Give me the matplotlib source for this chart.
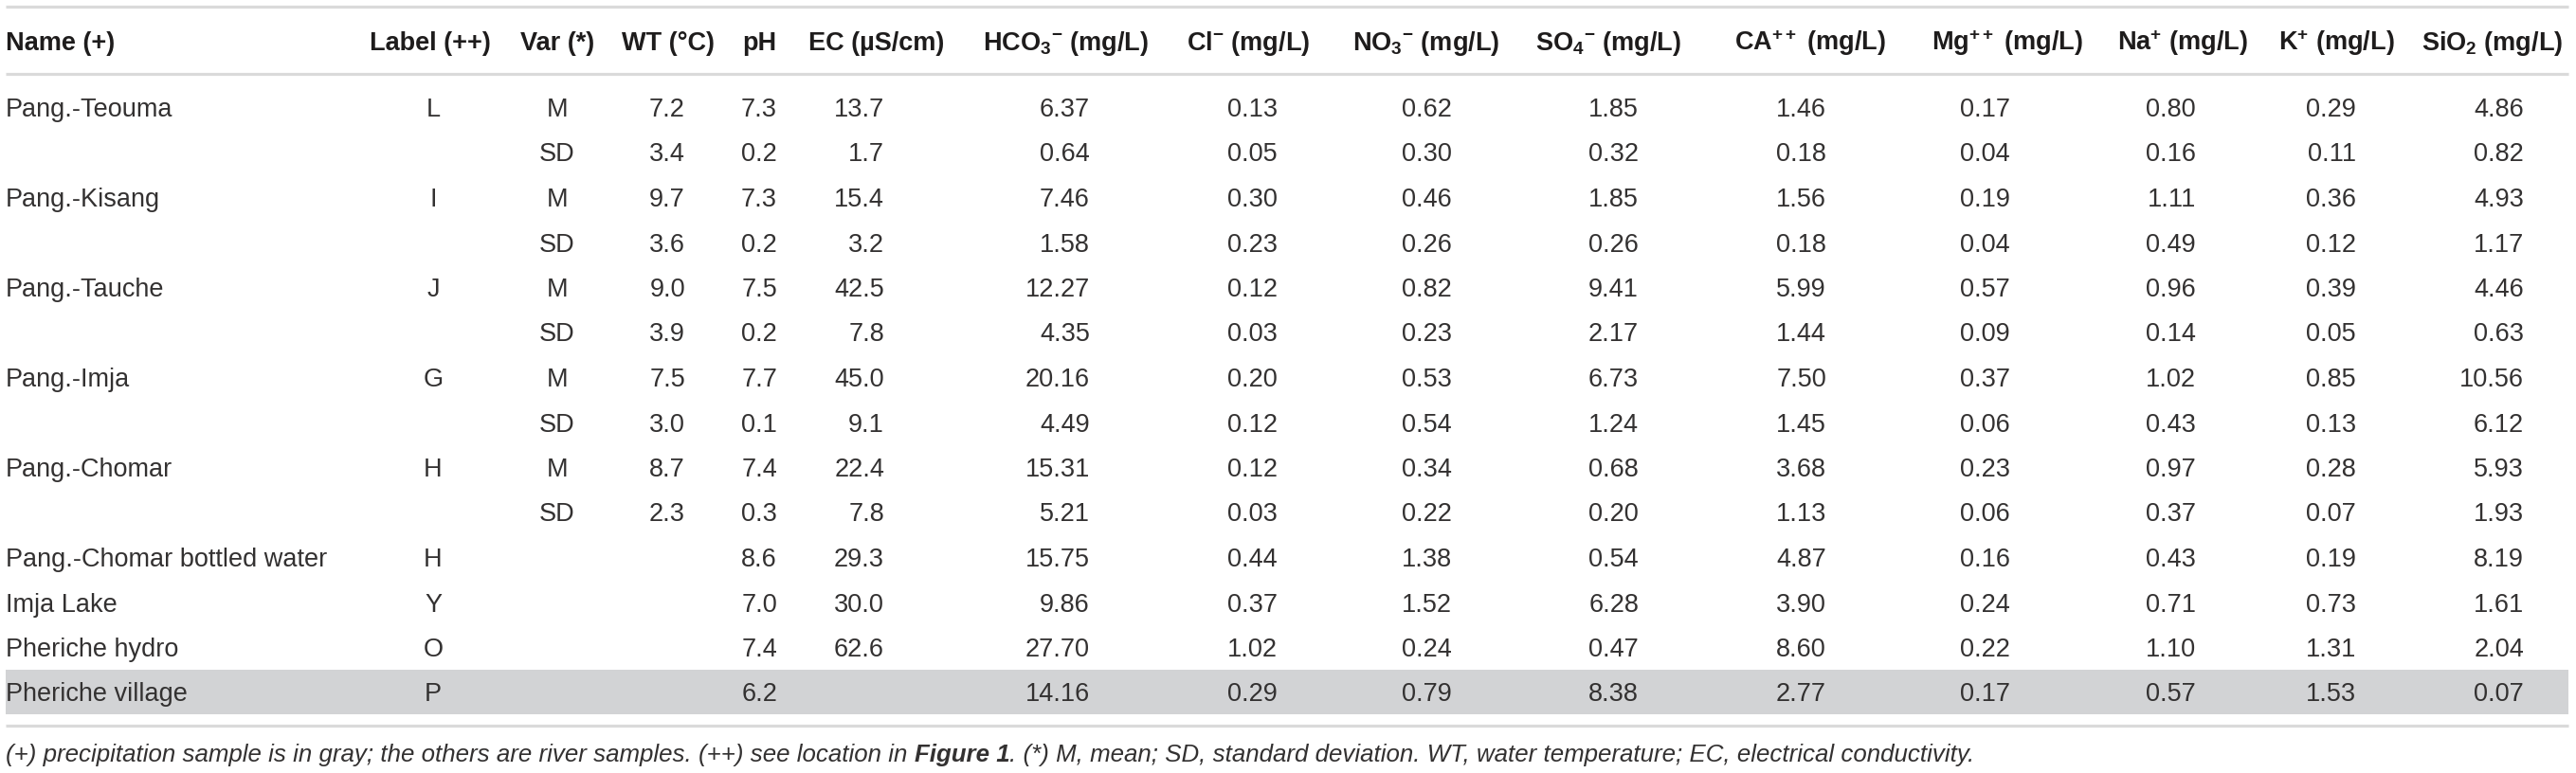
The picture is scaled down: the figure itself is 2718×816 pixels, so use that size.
import matplotlib
matplotlib.use("Agg")
import matplotlib.pyplot as plt
from matplotlib.patches import Rectangle

# ---- table data ----
names = ["Pang.-Teouma", "", "Pang.-Kisang", "", "Pang.-Tauche", "", "Pang.-Imja", "",
         "Pang.-Chomar", "", "Pang.-Chomar bottled water", "Imja Lake", "Pheriche hydro",
         "Pheriche village"]
labels = ["L", "", "I", "", "J", "", "G", "", "H", "", "H", "Y", "O", "P"]
var = ["M", "SD", "M", "SD", "M", "SD", "M", "SD", "M", "SD", "", "", "", ""]

wt = [7.2, 3.4, 9.7, 3.6, 9.0, 3.9, 7.5, 3.0, 8.7, 2.3, None, None, None, None]
ph = [7.3, 0.2, 7.3, 0.2, 7.5, 0.2, 7.7, 0.1, 7.4, 0.3, 8.6, 7.0, 7.4, 6.2]
ec = [13.7, 1.7, 15.4, 3.2, 42.5, 7.8, 45.0, 9.1, 22.4, 7.8, 29.3, 30.0, 62.6, None]
hco3 = [6.37, 0.64, 7.46, 1.58, 12.27, 4.35, 20.16, 4.49, 15.31, 5.21, 15.75, 9.86, 27.70, 14.16]
cl = [0.13, 0.05, 0.30, 0.23, 0.12, 0.03, 0.20, 0.12, 0.12, 0.03, 0.44, 0.37, 1.02, 0.29]
no3 = [0.62, 0.30, 0.46, 0.26, 0.82, 0.23, 0.53, 0.54, 0.34, 0.22, 1.38, 1.52, 0.24, 0.79]
so4 = [1.85, 0.32, 1.85, 0.26, 9.41, 2.17, 6.73, 1.24, 0.68, 0.20, 0.54, 6.28, 0.47, 8.38]
ca = [1.46, 0.18, 1.56, 0.18, 5.99, 1.44, 7.50, 1.45, 3.68, 1.13, 4.87, 3.90, 8.60, 2.77]
mg = [0.17, 0.04, 0.19, 0.04, 0.57, 0.09, 0.37, 0.06, 0.23, 0.06, 0.16, 0.24, 0.22, 0.17]
na = [0.80, 0.16, 1.11, 0.49, 0.96, 0.14, 1.02, 0.43, 0.97, 0.37, 0.43, 0.71, 1.10, 0.57]
k = [0.29, 0.11, 0.36, 0.12, 0.39, 0.05, 0.85, 0.13, 0.28, 0.07, 0.19, 0.73, 1.31, 1.53]
sio2 = [4.86, 0.82, 4.93, 1.17, 4.46, 0.63, 10.56, 6.12, 5.93, 1.93, 8.19, 1.61, 2.04, 0.07]

headers = ["Name (+)", "Label (++)", "Var (*)", "WT (°C)", "pH", "EC (µS/cm)",
           "HCO$_3$$^{-}$ (mg/L)", "Cl$^{-}$ (mg/L)", "NO$_3$$^{-}$ (mg/L)",
           "SO$_4$$^{-}$ (mg/L)", "CA$^{++}$ (mg/L)", "Mg$^{++}$ (mg/L)",
           "Na$^{+}$ (mg/L)", "K$^{+}$ (mg/L)", "SiO$_2$ (mg/L)"]
gray_rows = ["Pheriche village"]

# ---- styling / layout (pixel coordinates) ----
plt.rcParams['font.family'] = ['Liberation Sans', 'DejaVu Sans']
plt.rcParams['mathtext.fontset'] = 'custom'
plt.rcParams['mathtext.rm'] = 'Liberation Sans:bold'
plt.rcParams['mathtext.bf'] = 'Liberation Sans:bold'
plt.rcParams['mathtext.it'] = 'Liberation Sans:bold'

W, H = 2718, 816
txt = '#333131'
line_c = '#dadada'
band_c = '#d2d3d5'
fs = 19.5

fig = plt.figure(figsize=(W / 100, H / 100), dpi=100)
ax = fig.add_axes([0, 0, 1, 1])
ax.set_xlim(0, W)
ax.set_ylim(H, 0)
ax.axis('off')

x0, x1 = 6, 2710
row_y0, row_h = 113, 47.5
rows_y = [row_y0 + i * row_h for i in range(len(names))]

# gray band for precipitation sample
for i, n in enumerate(names):
    if n in gray_rows:
        ax.add_patch(Rectangle((x0, rows_y[i] - 23.5), x1 - x0, 46.5,
                               facecolor=band_c, edgecolor='none', zorder=0))

for y in (7, 78, 766):
    ax.plot([x0, x1], [y, y], color=line_c, lw=2.3, solid_capstyle='butt')

# header
hdr_x = [6, 454, 588, 705, 801, 925, 1124, 1317, 1505, 1697, 1910, 2118, 2303, 2465, 2630]
for j, h in enumerate(headers):
    ax.text(hdr_x[j], 53, h, ha='left' if j == 0 else 'center', va='baseline',
            fontsize=fs, fontweight='bold', color='#1e1c1c')

# text columns
for i in range(len(names)):
    yb = rows_y[i] + 10
    ax.text(6, yb, names[i], ha='left', va='baseline', fontsize=fs, color=txt)
    ax.text(457, yb, labels[i], ha='center', va='baseline', fontsize=fs, color=txt)
    ax.text(588, yb, var[i], ha='center', va='baseline', fontsize=fs, color=txt)

# numeric columns, right aligned
num_cols = [(wt, 1), (ph, 1), (ec, 1), (hco3, 2), (cl, 2), (no3, 2), (so4, 2),
            (ca, 2), (mg, 2), (na, 2), (k, 2), (sio2, 2)]
right_x = [723, 820, 933, 1150, 1348, 1532, 1729, 1927, 2121, 2317, 2486, 2663]
for (vals, nd), rx in zip(num_cols, right_x):
    for i, v in enumerate(vals):
        if v is None:
            continue
        ax.text(rx, rows_y[i] + 10, f"{v:.{nd}f}", ha='right', va='baseline',
                fontsize=fs, color=txt)

# footnote
parts = [("(+) precipitation sample is in gray; the others are river samples. (++) see location in ", 'normal'),
         ("Figure 1", 'bold'),
         (". (*) M, mean; SD, standard deviation. WT, water temperature; EC, electrical conductivity.", 'normal')]
prev = ax.text(6, 804, parts[0][0], ha='left', va='baseline', fontsize=18.6,
               style='italic', color=txt)
for s, wgt in parts[1:]:
    prev = ax.annotate(s, xy=(1, 0), xycoords=prev, ha='left', va='bottom',
                       fontsize=18.6, style='italic', fontweight=wgt, color=txt)

fig.savefig('out.png', dpi=100)
